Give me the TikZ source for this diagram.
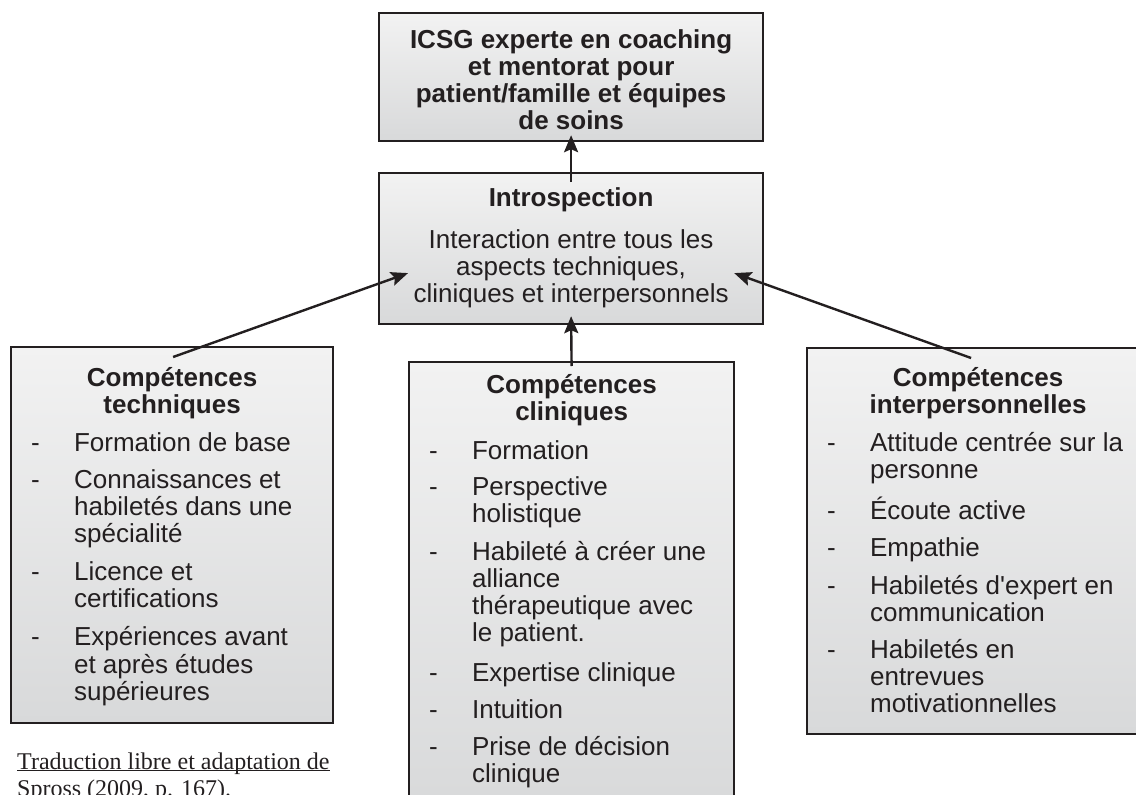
\documentclass[tikz,border=0pt]{standalone}
\usepackage{fontspec}
\setmainfont{Liberation Sans}
\newfontfamily\serifsrc{Liberation Serif}
\usetikzlibrary{arrows.meta,calc}
\definecolor{encre}{HTML}{231F20}
\definecolor{fondhaut}{HTML}{F2F2F2}
\definecolor{fondbas}{HTML}{D8D9DA}
\newcommand{\amorce}[1]{\vspace*{#1}\hbox{}}
\newcommand{\titre}[1]{{\centering\bfseries #1\par}}
\newcommand{\puces}[1]{\noindent\begin{tabular}[t]{@{\hspace{20pt}}p{43pt}@{}l@{}}#1\end{tabular}}

\begin{document}
\begin{tikzpicture}[x=1pt,y=-1pt,font=\fontsize{26}{27}\selectfont,text=encre,
  boite/.style={draw=encre,line width=2.2pt,top color=fondhaut,bottom color=fondbas,inner sep=0pt,anchor=north west},
  fleche/.style={draw=encre,line width=2.4pt,-{Stealth[length=17pt,width=14pt,inset=3pt]}}]
  \useasboundingbox (0,0) rectangle (1136,795);
  \clip (0,0) rectangle (1136,795);
  \node[boite] (icsg) at (378,12) {\parbox[t][128pt][t]{384pt}{\amorce{8pt}\titre{ICSG experte en coaching\\et mentorat pour\\patient/famille et équipes\\de soins}}};
  \node[boite] (intro) at (378,172) {\parbox[t][151pt][t]{384pt}{\amorce{6pt}\titre{Introspection}\vspace{15pt}{\centering Interaction entre tous les\\aspects techniques,\\cliniques et interpersonnels\par}}};
  \node[boite] (tech) at (10,346) {\parbox[t][376pt][t]{322pt}{\amorce{12pt}\titre{Compétences\\techniques}\vspace{11pt}\puces{- & Formation de base\\[10pt]
    - & Connaissances et\\ & habiletés dans une\\ & spécialité\\[11pt]
    - & Licence et\\ & certifications\\[11pt]
    - & Expériences avant\\ & et après études\\ & supérieures}}};
  \node[boite] (clin) at (408,361) {\parbox[t][450pt][t]{325pt}{\amorce{4pt}\titre{Compétences\\cliniques}\vspace{12pt}\puces{- & Formation\\[9pt]
    - & Perspective\\ & holistique\\[11pt]
    - & Habileté à créer une\\ & alliance\\ & thérapeutique avec\\ & le patient.\\[13pt]
    - & Expertise clinique\\[10pt]
    - & Intuition\\[10pt]
    - & Prise de décision\\ & clinique}}};
  \node[boite] (inter) at (806,347) {\parbox[t][386pt][t]{342pt}{\amorce{11pt}\titre{Compétences\\interpersonnelles}\vspace{11pt}\puces{- & Attitude centrée sur la\\ & personne\\[11pt]
    - & Écoute active\\[10pt]
    - & Empathie\\[11pt]
    - & Habiletés d\textquotesingle expert en\\ & communication\\[9pt]
    - & Habiletés en\\ & entrevues\\ & motivationnelles}}};
  \node[anchor=base west,inner sep=0pt,font=\serifsrc\fontsize{24}{27}\selectfont] (source) at (17,769) {\parbox[t]{340pt}{\underline{\smash{Traduction libre et adaptation de}}\\Spross (2009, p. 167).}};
  \draw[fleche] ($(intro.north)+(0,10)$) -- ($(icsg.south)+(0,-7)$);
  \draw[fleche] ($(clin.north)+(0,5)$) -- ($(intro.south)+(0,-9)$);
  \draw[fleche] ($(tech.north)+(1,11)$) -- ($(intro.west)+(30,24.5)$);
  \draw[fleche] ($(inter.north)+(-7,11)$) -- ($(intro.east)+(-30,24.5)$);
\end{tikzpicture}
\end{document}
